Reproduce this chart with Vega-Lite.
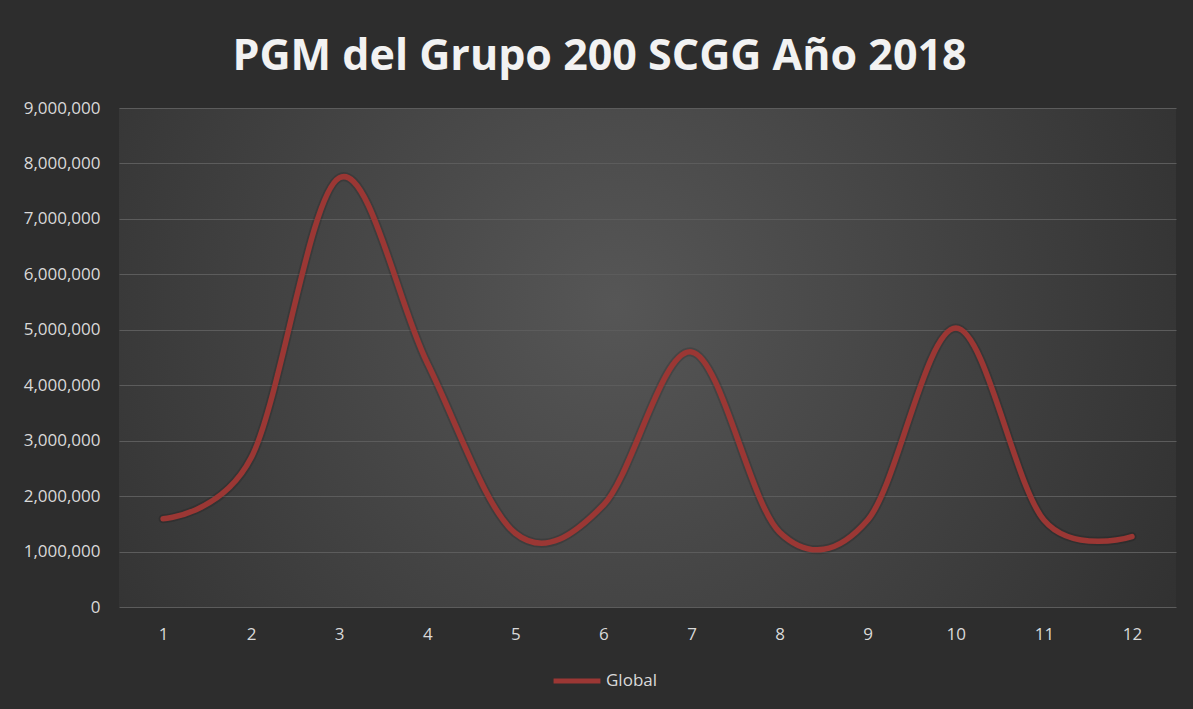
{
  "$schema": "https://vega.github.io/schema/vega-lite/v6.json",
  "autosize": "none",
  "width": 1057,
  "height": 499,
  "padding": {"left": 119, "top": 108, "right": 17, "bottom": 102},
  "background": "#2d2d2d",
  "title": {
    "text": "PGM del Grupo 200 SCGG Año 2018",
    "font": "Open Sans",
    "fontSize": 43,
    "fontWeight": "bold",
    "color": "#f2f2f2",
    "anchor": "middle",
    "frame": "bounds",
    "offset": 20
  },
  "config": {
    "view": {
      "stroke": null,
      "fill": {
        "gradient": "radial",
        "x1": 0.47, "y1": 0.45, "r1": 0,
        "x2": 0.47, "y2": 0.45, "r2": 0.62,
        "stops": [
          {"offset": 0, "color": "#565656"},
          {"offset": 1, "color": "#303030"}
        ]
      }
    },
    "axis": {
      "labelFont": "Open Sans",
      "labelFontSize": 17,
      "labelColor": "#d9d9d9",
      "domain": false,
      "ticks": false,
      "titleColor": "#d9d9d9"
    },
    "legend": {
      "labelFont": "Open Sans",
      "labelFontSize": 17,
      "labelColor": "#d9d9d9"
    }
  },
  "data": {
    "values": [
      {"mes": 1, "valor": 1590000, "serie": "Global"},
      {"mes": 2, "valor": 2690000, "serie": "Global"},
      {"mes": 3, "valor": 7740000, "serie": "Global"},
      {"mes": 4, "valor": 4400000, "serie": "Global"},
      {"mes": 5, "valor": 1330000, "serie": "Global"},
      {"mes": 6, "valor": 1840000, "serie": "Global"},
      {"mes": 7, "valor": 4600000, "serie": "Global"},
      {"mes": 8, "valor": 1350000, "serie": "Global"},
      {"mes": 9, "valor": 1570000, "serie": "Global"},
      {"mes": 10, "valor": 5030000, "serie": "Global"},
      {"mes": 11, "valor": 1570000, "serie": "Global"},
      {"mes": 12, "valor": 1270000, "serie": "Global"}
    ]
  },
  "encoding": {
    "x": {
      "field": "mes",
      "type": "ordinal",
      "title": null,
      "scale": {"paddingInner": 0, "paddingOuter": 0},
      "axis": {"labelAngle": 0, "labelPadding": 19, "grid": false}
    },
    "y": {
      "field": "valor",
      "type": "quantitative",
      "title": null,
      "scale": {"domain": [0, 9000000], "nice": false},
      "axis": {
        "values": [0, 1000000, 2000000, 3000000, 4000000, 5000000, 6000000, 7000000, 8000000, 9000000],
        "format": ",.0f",
        "labelPadding": 19,
        "grid": true,
        "gridColor": "#5c5c5c",
        "gridWidth": 1
      }
    }
  },
  "layer": [
    {
      "mark": {"type": "line", "interpolate": "cardinal", "tension": 0, "strokeWidth": 9, "color": "#000000", "opacity": 0.14, "strokeCap": "round"},
      "encoding": {}
    },
    {
      "mark": {"type": "line", "interpolate": "cardinal", "tension": 0, "strokeWidth": 5.5, "strokeCap": "round"},
      "encoding": {
        "color": {
          "field": "serie",
          "type": "nominal",
          "scale": {"range": ["#9b3734"]},
          "legend": {
            "title": null,
            "orient": "none",
            "legendX": 432,
            "legendY": 547,
            "direction": "horizontal",
            "symbolType": "stroke",
            "symbolSize": 2200,
            "symbolStrokeWidth": 5,
            "labelOffset": 3
          }
        }
      }
    }
  ]
}
